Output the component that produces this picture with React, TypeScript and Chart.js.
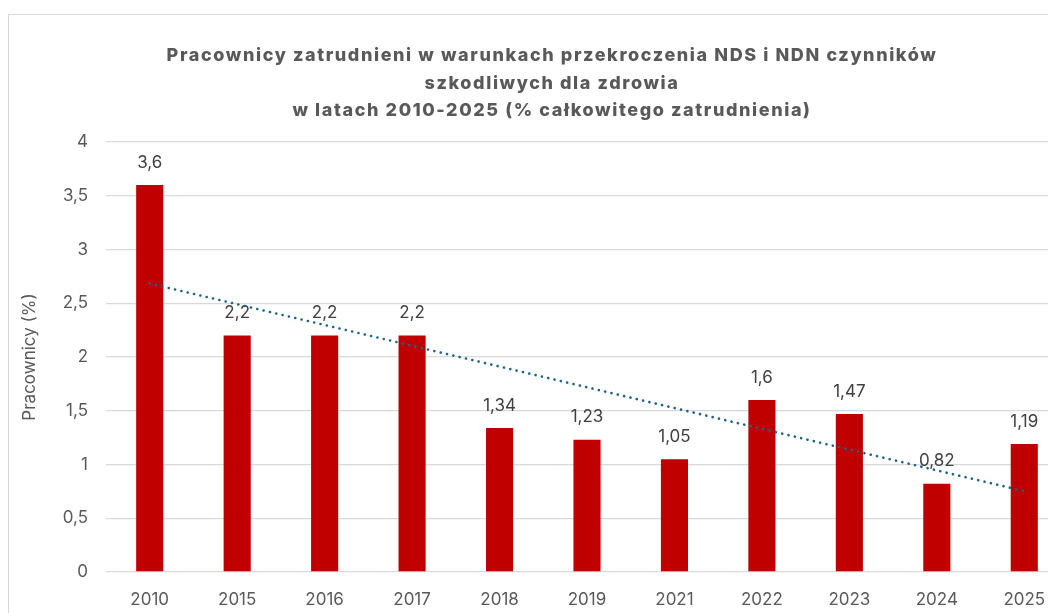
import React, { useEffect, useRef } from "react";
import { Chart, registerables } from "chart.js";

Chart.register(...registerables);

const categories: string[] = ["2010", "2015", "2016", "2017", "2018", "2019", "2021", "2022", "2023", "2024", "2025"];
const workersPct: number[] = [3.6, 2.2, 2.2, 2.2, 1.34, 1.23, 1.05, 1.6, 1.47, 0.82, 1.19];
const yTicks: number[] = [0, 0.5, 1, 1.5, 2, 2.5, 3, 3.5, 4];
const titleLines: string[] = [
  "Pracownicy zatrudnieni w warunkach przekroczenia NDS i NDN czynników",
  "szkodliwych dla zdrowia",
  "w latach 2010-2025 (% całkowitego zatrudnienia)",
];
const yAxisTitle = "Pracownicy (%)";

// Linear trendline (least squares), as Excel's trendline
function linearTrend(values: number[]): number[] {
  const n = values.length;
  const mx = (n - 1) / 2;
  const my = values.reduce((a, b) => a + b, 0) / n;
  let sxy = 0;
  let sxx = 0;
  values.forEach((v, i) => {
    sxy += (i - mx) * (v - my);
    sxx += (i - mx) * (i - mx);
  });
  const slope = sxy / sxx;
  return values.map((_, i) => my + slope * (i - mx));
}

const fmt = (v: number) => String(v).replace(".", ",");
const FONT = "Inter, 'Open Sans', sans-serif";

const barLabels = {
  id: "barLabels",
  afterDatasetDraw(chart: any, args: any) {
    if (args.index !== 0) return;
    const ctx = chart.ctx;
    const meta = chart.getDatasetMeta(0);
    ctx.save();
    ctx.font = `17px ${FONT}`;
    ctx.fillStyle = "#404040";
    ctx.textAlign = "center";
    ctx.textBaseline = "bottom";
    meta.data.forEach((el: any, i: number) => {
      ctx.fillText(fmt(workersPct[i]), el.x, el.y - 14);
    });
    ctx.restore();
  },
};

const spacedTitle = {
  id: "spacedTitle",
  afterDraw(chart: any) {
    const ctx = chart.ctx;
    ctx.save();
    ctx.font = `800 18px ${FONT}`;
    ctx.fillStyle = "#595959";
    ctx.textAlign = "center";
    ctx.textBaseline = "middle";
    (ctx as any).letterSpacing = "1.6px";
    const cx = chart.width / 2;
    const ys = [41, 69, 96];
    titleLines.forEach((line, i) => ctx.fillText(line, cx, ys[i]));
    ctx.restore();
  },
};

export default function App() {
  const ref = useRef<HTMLCanvasElement | null>(null);
  useEffect(() => {
    if (!ref.current) return;
    const chart = new Chart(ref.current, {
      type: "bar",
      data: {
        labels: categories,
        datasets: [
          {
            type: "bar",
            data: workersPct,
            backgroundColor: "#C00000",
            categoryPercentage: 1,
            barPercentage: 0.31,
            order: 2,
          },
          {
            type: "line",
            data: linearTrend(workersPct),
            borderColor: "#1F6288",
            borderWidth: 2.6,
            borderDash: [0.1, 6.4],
            borderCapStyle: "round",
            pointRadius: 0,
            fill: false,
            order: 1,
          } as any,
        ],
      },
      options: {
        animation: false,
        responsive: false,
        layout: { padding: { left: 0, right: 27, top: 127, bottom: 0 } },
        plugins: {
          legend: { display: false },
          tooltip: { enabled: false },
          title: { display: false },
        },
        scales: {
          x: {
            grid: { display: false, drawTicks: false },
            border: { display: false },
            ticks: { color: "#595959", font: { family: FONT, size: 17 }, padding: 18 },
            afterFit: (s: any) => {
              s.height = 61;
            },
          },
          y: {
            min: 0,
            max: 4,
            afterBuildTicks: (s: any) => {
              s.ticks = yTicks.map((v) => ({ value: v }));
            },
            grid: { color: "#d9d9d9", lineWidth: 1.3, drawTicks: false },
            border: { display: false },
            ticks: {
              color: "#595959",
              font: { family: FONT, size: 17 },
              padding: 18,
              callback: (v: any) => fmt(Number(v)),
            },
            title: {
              display: true,
              text: yAxisTitle,
              color: "#595959",
              font: { family: FONT, size: 17 },
              padding: { top: 11, bottom: 0 },
            },
            afterFit: (s: any) => {
              s.width = 97;
            },
          },
        },
      },
      plugins: [barLabels, spacedTitle],
    });
    return () => chart.destroy();
  }, []);

  return (
    <div style={{ position: "relative", width: 1048, height: 605, overflow: "hidden" }}>
      <div
        style={{
          position: "absolute",
          left: 0,
          top: 6,
          width: 1088,
          height: 620,
          border: "1px solid #d9d9d9",
          boxSizing: "border-box",
          background: "#fff",
        }}
      >
        <canvas ref={ref} width={1086} height={618} style={{ display: "block" }} />
      </div>
    </div>
  );
}
